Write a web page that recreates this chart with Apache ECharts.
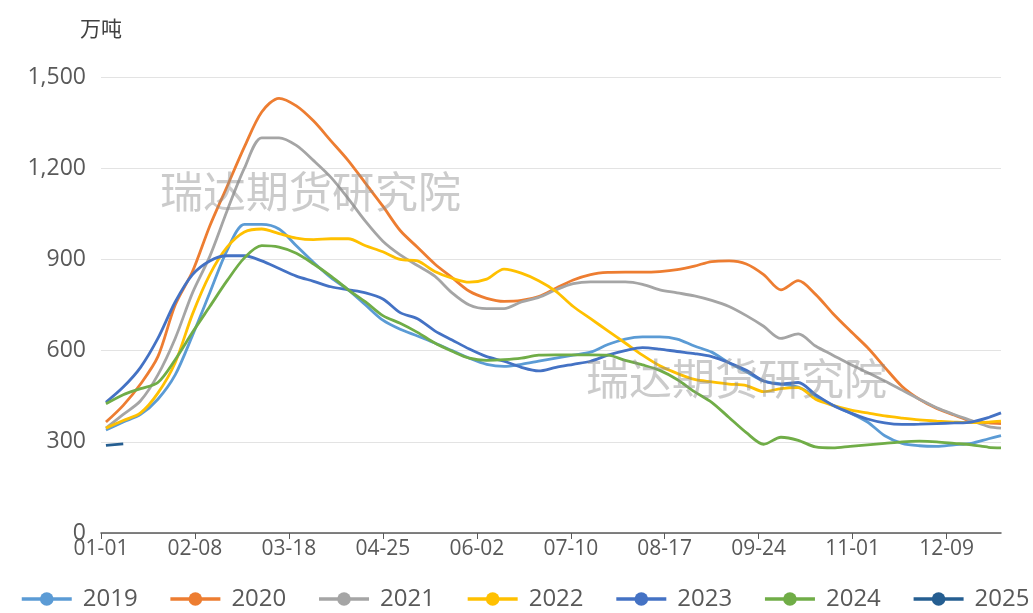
<!DOCTYPE html>
<html>
<head>
<meta charset="utf-8">
<script src="https://cdn.jsdelivr.net/npm/echarts@6/dist/echarts.min.js"></script>
<style>
html,body{margin:0;padding:0;background:#fff;}
#chart{width:1033px;height:613px;}
</style>
</head>
<body>
<div id="chart"></div>
<script>
// Weekly observation dates (MM-DD)
const weekDates = ['01-03','01-10','01-17','01-24','01-31','02-07','02-14','02-21','02-28','03-07','03-14','03-21','03-28','04-04','04-11','04-18','04-25','05-02','05-09','05-16','05-23','05-30','06-06','06-13','06-20','06-27','07-04','07-11','07-18','07-25','08-01','08-08','08-15','08-22','08-29','09-05','09-12','09-19','09-26','10-03','10-10','10-17','10-24','10-31','11-07','11-14','11-21','11-28','12-05','12-12','12-19','12-26','12-31'];

const years = ['2019','2020','2021','2022','2023','2024','2025'];
const colors = ['#5B9BD5','#ED7D31','#A5A5A5','#FFC000','#4472C4','#70AD47','#255E91'];

const v2019 = [339,365,390,440,520,650,790,930,1015,1015,1000,945,890,840,800,750,700,670,648,625,600,575,555,548,555,565,575,585,595,620,638,645,645,638,615,595,560,530,500,490,480,450,420,395,365,320,295,287,285,290,295,310,320];
const v2020 = [365,420,490,580,750,860,1010,1140,1270,1385,1430,1405,1355,1290,1225,1150,1075,995,940,885,840,795,772,762,765,778,805,832,850,857,858,858,860,866,878,893,895,885,850,800,830,785,722,665,610,545,482,440,410,388,368,362,360];
const v2021 = [345,390,435,520,640,790,910,1060,1200,1300,1300,1275,1225,1170,1100,1025,960,915,880,845,790,750,738,738,760,775,800,820,826,826,826,818,800,790,780,765,745,715,680,640,655,615,585,555,528,500,470,440,412,390,370,350,345];
const v2022 = [345,370,395,460,560,720,850,940,990,1000,985,970,965,968,968,945,925,900,895,860,838,825,835,868,855,830,795,745,705,665,625,585,550,525,505,497,490,485,465,475,478,440,420,405,395,385,378,372,368,365,363,365,368];
const v2023 = [430,480,545,640,760,850,895,912,912,895,870,845,828,810,800,790,770,725,705,665,635,605,580,565,545,533,545,555,565,585,600,610,605,597,590,580,560,535,500,490,495,455,420,395,375,362,357,358,360,362,365,380,395];
const v2024 = [425,455,475,495,570,660,745,830,905,945,940,920,885,845,800,760,715,690,660,625,598,575,568,570,575,585,586,586,586,585,568,553,535,505,465,430,380,330,292,315,305,283,280,285,290,295,300,302,300,295,290,282,280];
const v2025 = [288,293];

const yTicks = [0,300,600,900,1200,1500];

// daily category axis (non-leap calendar year)
const days = [];
for (let t = Date.UTC(2019,0,1); t <= Date.UTC(2019,11,31); t += 86400000) {
  const d = new Date(t);
  days.push(String(d.getUTCMonth()+1).padStart(2,'0') + '-' + String(d.getUTCDate()).padStart(2,'0'));
}

const allValues = [v2019,v2020,v2021,v2022,v2023,v2024,v2025];
const FONT = "'Open Sans','Noto Sans CJK SC',sans-serif";

const series = years.map((y,i) => ({
  name: y,
  type: 'line',
  data: allValues[i].map((v,k) => [weekDates[k], v]),
  smooth: 0.3,
  symbol: 'circle',
  symbolSize: 15,
  showSymbol: false,
  lineStyle: {width: 2.8, color: colors[i]},
  itemStyle: {color: colors[i]},
  z: 2 + i
}));

const chart = echarts.init(document.getElementById('chart'));
chart.setOption({
  animation: false,
  backgroundColor: '#fff',
  color: colors,
  grid: {left: 101, right: 32, top: 77, bottom: 80},
  legend: {
    data: years,
    left: 20,
    top: 587,
    padding: 0,
    width: 1033,
    itemWidth: 50,
    itemHeight: 17,
    itemGap: 31,
    lineStyle: {width: 3.5},
    textStyle: {fontFamily: FONT, fontSize: 24, color: '#595959', padding: [0,0,0,6]}
  },
  xAxis: {
    type: 'category',
    data: days,
    boundaryGap: false,
    axisLine: {lineStyle: {color: '#595959', width: 1.5}},
    axisTick: {show: true, interval: 37, length: 6, lineStyle: {color: '#595959'}},
    axisLabel: {interval: 37, fontFamily: FONT, fontSize: 21, color: '#595959', margin: 6},
    splitLine: {show: false}
  },
  yAxis: {
    type: 'value',
    min: 0, max: 1500, interval: 300,
    name: '万吨',
    nameLocation: 'end',
    nameGap: 38,
    nameTextStyle: {fontFamily: "'Noto Sans CJK SC',sans-serif", fontSize: 21, color: '#404040', align: 'center'},
    axisLine: {show: false},
    axisTick: {show: false},
    axisLabel: {fontFamily: FONT, fontSize: 23, color: '#595959', margin: 15,
      formatter: v => v.toLocaleString('en-US')},
    splitLine: {lineStyle: {color: '#E3E3E3', width: 1.2}}
  },
  graphic: [
    {type: 'text', left: 160, top: 170, z: 100, silent: true,
     style: {text: '瑞达期货研究院', font: "43px 'Noto Sans CJK SC'", fill: 'rgba(140,140,140,0.45)'}},
    {type: 'text', left: 586, top: 357, z: 100, silent: true,
     style: {text: '瑞达期货研究院', font: "43px 'Noto Sans CJK SC'", fill: 'rgba(140,140,140,0.45)'}}
  ],
  series: series
});
</script>
</body>
</html>
